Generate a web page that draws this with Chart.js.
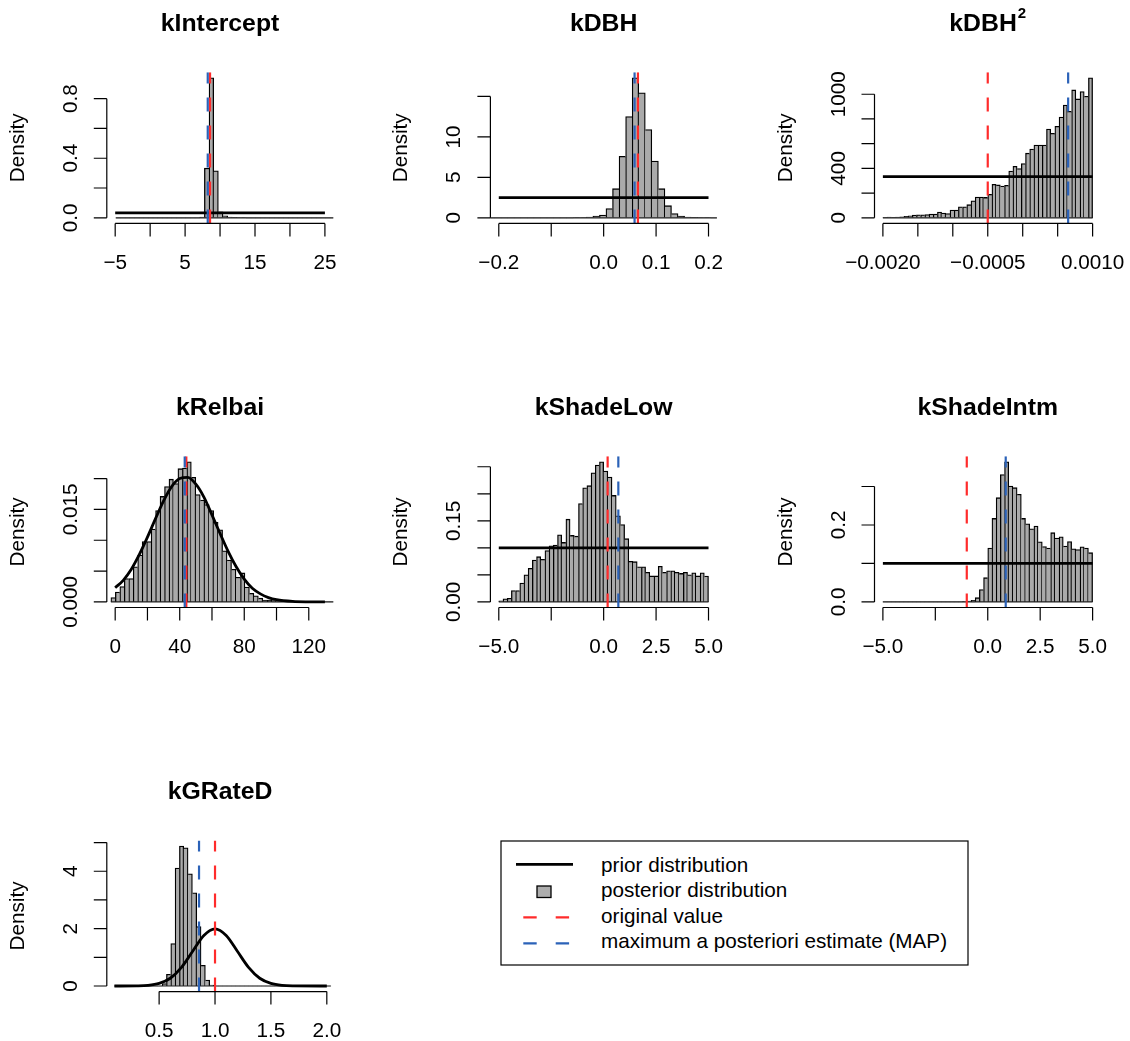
<!DOCTYPE html>
<html>
<head>
<meta charset="utf-8">
<title>Prior and posterior distributions</title>
<script src="https://cdn.jsdelivr.net/npm/chart.js@4.4.1/dist/chart.umd.min.js"></script>
<style>
  html, body { margin: 0; padding: 0; background: #fff; overflow: hidden; }
  #page { position: relative; width: 1130px; height: 1041px; }
  #page canvas, #page svg { position: absolute; left: 0; top: 0; }
  #legend text { font: 20.7px "Liberation Sans", Arial, sans-serif; fill: #000; }
</style>
</head>
<body>
<div id="page">
  <svg id="legend" width="1130" height="1041">
    <rect x="501" y="841" width="467" height="124" fill="none" stroke="#000" stroke-width="1.2"/>
    <line x1="516" y1="864.3" x2="573" y2="864.3" stroke="#000" stroke-width="2.8"/>
    <rect x="537" y="886" width="14" height="11.5" fill="#adadad" stroke="#000" stroke-width="1.3"/>
    <line x1="523.3" y1="917.3" x2="569.1" y2="917.3" stroke="#ff2b2b" stroke-width="2.2" stroke-dasharray="13.4 19"/>
    <line x1="523.3" y1="943.3" x2="569.1" y2="943.3" stroke="#2b62b8" stroke-width="2.2" stroke-dasharray="13.4 19"/>
    <text x="601" y="871.5">prior distribution</text>
    <text x="601" y="897.2">posterior distribution</text>
    <text x="601" y="922.8">original value</text>
    <text x="601" y="948.4">maximum a posteriori estimate (MAP)</text>
  </svg>
</div>
<script>
// parameter names, one panel each
const panelTitles = ['kIntercept', 'kDBH', 'kDBH', 'kRelbai', 'kShadeLow', 'kShadeIntm', 'kGRateD'];
const titleSup = ['', '', '2', '', '', '', ''];

// histogram breaks: first break and bin width (50 bins per panel)
const histStart = [-4.91, -0.2456, -0.002, -2.67, -5, -5, 0.101];
const histWidth = [0.6667, 0.0125, 0.00006, 2.77, 0.2, 0.2, 0.0387];

// posterior densities per bin
const interceptHist = [
  0, 0, 0, 0, 0, 0, 0, 0, 0, 0,
  0, 0, 0, 0, 0, 0, 0, 0, 0.005, 0.333,
  0.94, 0.315, 0.04, 0.013, 0.005, 0.003, 0.002, 0.001, 0, 0,
  0, 0, 0, 0, 0, 0, 0, 0, 0, 0,
  0, 0, 0, 0, 0, 0, 0, 0, 0, 0
];
const dbhHist = [
  0, 0, 0, 0, 0, 0, 0, 0, 0, 0,
  0, 0, 0, 0, 0, 0.02, 0.04, 0.08, 0.2, 0.33,
  1.15, 3.6, 7.6, 12.5, 17.3, 15.45, 10.9, 7.0, 3.6, 1.5,
  0.53, 0.2, 0.1, 0.05, 0.03, 0.02, 0, 0, 0, 0,
  0, 0, 0, 0, 0, 0, 0, 0, 0, 0
];
const dbh2Hist = [
  3, 5, 3, 5, 8, 11, 16, 22, 24, 24,
  27, 30, 30, 46, 38, 35, 62, 62, 89, 89,
  106, 138, 168, 168, 165, 190, 271, 266, 257, 263,
  379, 417, 398, 439, 523, 556, 588, 588, 588, 718,
  683, 740, 816, 913, 862, 1035, 962, 1022, 984, 1133
];
const relbaiHist = [
  0.0007, 0.0016, 0.0025, 0.0038, 0.0038, 0.0057, 0.0076, 0.0098, 0.0098, 0.0118,
  0.0148, 0.0171, 0.0187, 0.0199, 0.0192, 0.0216, 0.0217, 0.0227, 0.0202, 0.0174,
  0.0165, 0.0158, 0.0148, 0.0129, 0.0117, 0.0083, 0.0068, 0.0053, 0.0040, 0.0047,
  0.0024, 0.0014, 0.0010, 0.0006, 0.0003, 0.0003, 0.0002, 0.0001, 0.0001, 0.00005,
  0.00005, 0, 0, 0, 0, 0, 0, 0, 0, 0
];
const shadeLowHist = [
  0.002, 0.0056, 0.0068, 0.021, 0.021, 0.035, 0.050, 0.062, 0.0775, 0.0837,
  0.0788, 0.095, 0.1036, 0.105, 0.124, 0.110, 0.153, 0.123, 0.1216, 0.182,
  0.211, 0.215, 0.239, 0.253, 0.259, 0.242, 0.231, 0.197, 0.159, 0.143,
  0.117, 0.075, 0.0744, 0.065, 0.065, 0.0546, 0.048, 0.048, 0.066, 0.0546,
  0.0577, 0.0577, 0.0546, 0.0527, 0.0546, 0.050, 0.054, 0.048, 0.054, 0.0478
];
const shadeIntmHist = [
  0, 0, 0, 0, 0, 0, 0, 0, 0, 0,
  0, 0, 0, 0, 0, 0, 0, 0, 0, 0.001,
  0.002, 0.004, 0.011, 0.032, 0.063, 0.140, 0.217, 0.271, 0.331, 0.364,
  0.301, 0.297, 0.280, 0.217, 0.203, 0.190, 0.197, 0.156, 0.144, 0.140,
  0.180, 0.166, 0.169, 0.145, 0.157, 0.138, 0.136, 0.143, 0.140, 0.128
];
const gRateHist = [
  0, 0, 0, 0, 0, 0, 0, 0, 0, 0,
  0, 0.08, 0.41, 1.48, 4.11, 4.88, 4.82, 3.91, 3.25, 2.07,
  0.72, 0.21, 0.035, 0, 0, 0, 0, 0, 0, 0,
  0, 0, 0, 0, 0, 0, 0, 0, 0, 0,
  0, 0, 0, 0, 0, 0, 0, 0, 0, 0
];
const hists = [interceptHist, dbhHist, dbh2Hist, relbaiHist, shadeLowHist, shadeIntmHist, gRateHist];

// prior densities
const priorX = [
  [-5, 25],
  [-0.2, 0.2],
  [-0.002, 0.001],
  [0, 5, 10, 15, 20, 25, 30, 35, 40, 45, 50, 55, 60, 65, 70, 75, 80, 85, 90, 95, 100, 110, 120, 130],
  [-5, 5],
  [-5, 5],
  [0.1, 0.3, 0.4, 0.5, 0.6, 0.7, 0.8, 0.9, 1.0, 1.1, 1.2, 1.3, 1.4, 1.5, 1.6, 1.7, 2.0]
];
const priorY = [
  [0.0333, 0.0333],
  [2.5, 2.5],
  [333.3, 333.3],
  [0.0023, 0.0035, 0.0053, 0.0077, 0.0105, 0.0135, 0.0164, 0.0187, 0.0200, 0.0202, 0.0191, 0.0170,
   0.0141, 0.0111, 0.0082, 0.0057, 0.0037, 0.0022, 0.0013, 0.0007, 0.00035, 0.00007, 0.00001, 0],
  [0.1, 0.1],
  [0.1, 0.1],
  [0, 0.004, 0.02, 0.09, 0.27, 0.65, 1.21, 1.76, 1.99, 1.76, 1.21, 0.65, 0.27, 0.09, 0.02, 0.004, 0]
];

const originalValue = [8.57, 0.0654, -0.0005, 44.1, 0.19, -1.0, 1.0];
const mapEstimate = [8.24, 0.059, 0.00065, 43.1, 0.70, 0.857, 0.857];

// axis limits before the 4% extension
const xLimits = [[-5, 25], [-0.2, 0.2], [-0.002, 0.001], [0, 130], [-5, 5], [-5, 5], [0.107, 1.983]];

const M = '\u2212';
const xTicks = [
  [-5, 0, 5, 10, 15, 20, 25],
  [-0.2, -0.1, 0, 0.1, 0.2],
  [-0.002, -0.0015, -0.001, -0.0005, 0, 0.0005, 0.001],
  [0, 20, 40, 60, 80, 100, 120],
  [-5, -2.5, 0, 2.5, 5],
  [-5, -2.5, 0, 2.5, 5],
  [0.5, 1.0, 1.5, 2.0]
];
const xTickLabels = [
  [M + '5', '', '5', '', '15', '', '25'],
  [M + '0.2', '', '0.0', '0.1', '0.2'],
  [M + '0.0020', '', '', M + '0.0005', '', '', '0.0010'],
  ['0', '', '40', '', '80', '', '120'],
  [M + '5.0', '', '0.0', '2.5', '5.0'],
  [M + '5.0', '', '0.0', '2.5', '5.0'],
  ['0.5', '1.0', '1.5', '2.0']
];
const yTicks = [
  [0, 0.2, 0.4, 0.6, 0.8],
  [0, 5, 10, 15],
  [0, 200, 400, 600, 800, 1000],
  [0, 0.005, 0.010, 0.015, 0.020],
  [0, 0.05, 0.10, 0.15, 0.20, 0.25],
  [0, 0.1, 0.2, 0.3],
  [0, 1, 2, 3, 4, 5]
];
const yTickLabels = [
  ['0.0', '', '0.4', '', '0.8'],
  ['0', '5', '10', ''],
  ['0', '', '400', '', '', '1000'],
  ['0.000', '', '', '0.015', ''],
  ['0.00', '', '', '0.15', '', ''],
  ['0.0', '', '0.2', ''],
  ['0', '', '2', '', '4', '']
];

// page layout of the 3x3 grid
const panelCol = [0, 1, 2, 0, 1, 2, 0];
const panelRow = [0, 0, 0, 1, 1, 1, 2];
const colLeft = [106.8, 490.4, 874.5];
const rowTop = [72.2, 456.3, 840.4];
const PW = 226.5, PH = 151.2;
const PAGE_W = 1130, PAGE_H = 1041;

const LABEL_FONT = '20.7px "Liberation Sans", Arial, sans-serif';
const TITLE_FONT = 'bold 24.8px "Liberation Sans", Arial, sans-serif';
const SUP_FONT = 'bold 15px "Liberation Sans", Arial, sans-serif';
const TICK = 13;
const BAR_FILL = '#aaaaaa';
const BAR_EDGE = 1.3;
const RED = '#ff2b2b';
const BLUE = '#2b62b8';

// base-graphics style axes, labels and titles
const rAxes = {
  id: 'rAxes',
  afterDraw(chart, args, opts) {
    const i = opts.panel;
    const { ctx, chartArea: a } = chart;
    const sx = chart.scales.x, sy = chart.scales.y;
    const xs = xTicks[i].map(v => sx.getPixelForValue(v));
    const ys = yTicks[i].map(v => sy.getPixelForValue(v));

    ctx.save();
    ctx.strokeStyle = '#000';
    ctx.fillStyle = '#000';
    ctx.lineWidth = 1.2;
    ctx.beginPath();
    ctx.moveTo(xs[0], a.bottom);
    ctx.lineTo(xs[xs.length - 1], a.bottom);
    for (const px of xs) {
      ctx.moveTo(px, a.bottom);
      ctx.lineTo(px, a.bottom + TICK);
    }
    ctx.moveTo(a.left, ys[0]);
    ctx.lineTo(a.left, ys[ys.length - 1]);
    for (const py of ys) {
      ctx.moveTo(a.left, py);
      ctx.lineTo(a.left - TICK, py);
    }
    ctx.stroke();

    ctx.font = LABEL_FONT;
    ctx.textAlign = 'center';
    ctx.textBaseline = 'alphabetic';
    xTickLabels[i].forEach((t, k) => {
      if (t) ctx.fillText(t, xs[k], a.bottom + 45.8);
    });
    yTickLabels[i].forEach((t, k) => {
      if (!t) return;
      ctx.save();
      ctx.translate(a.left - 30, ys[k]);
      ctx.rotate(-Math.PI / 2);
      ctx.fillText(t, 0, 0);
      ctx.restore();
    });
    ctx.save();
    ctx.translate(a.left - 83, (a.top + a.bottom) / 2);
    ctx.rotate(-Math.PI / 2);
    ctx.fillText('Density', 0, 0);
    ctx.restore();

    // title, with an optional superscript
    const title = panelTitles[i], sup = titleSup[i];
    ctx.font = TITLE_FONT;
    const wMain = ctx.measureText(title).width;
    ctx.font = SUP_FONT;
    const wSup = sup ? ctx.measureText(sup).width + 1 : 0;
    const x0 = (a.left + a.right) / 2 - (wMain + wSup) / 2;
    ctx.textAlign = 'left';
    ctx.font = TITLE_FONT;
    ctx.fillText(title, x0, a.top - 41);
    if (sup) {
      ctx.font = SUP_FONT;
      ctx.fillText(sup, x0 + wMain + 1, a.top - 54);
    }
    ctx.restore();
  }
};

function panelConfig(i) {
  const [lo, hi] = xLimits[i];
  const ext = (hi - lo) * 0.04;
  const h = hists[i];
  const top = Math.max(...h);
  const yMin = -0.04 * top, yMax = 1.04 * top;
  const s = histStart[i], w = histWidth[i];
  const bars = h.map((v, k) => ({ x: s + (k + 0.5) * w, y: v }));
  // each shared bin edge is outlined once, by the taller neighbour
  const borders = h.map((v, k) => {
    if (!v) return 0;
    const prev = k > 0 ? h[k - 1] : 0;
    const next = k < h.length - 1 ? h[k + 1] : 0;
    return { top: BAR_EDGE, bottom: 0, left: prev <= v ? BAR_EDGE : 0, right: next < v ? BAR_EDGE : 0 };
  });
  const prior = priorX[i].map((x, k) => ({ x, y: priorY[i][k] }));
  const smooth = priorX[i].length > 2;
  const vline = (v, color, order) => ({
    type: 'line',
    data: [{ x: v, y: yMin }, { x: v, y: yMax }],
    borderColor: color,
    borderWidth: 2.2,
    borderDash: [14, 14],
    pointRadius: 0,
    order
  });
  const left = colLeft[panelCol[i]], topPx = rowTop[panelRow[i]];

  return {
    type: 'bar',
    data: {
      datasets: [
        {
          type: 'bar',
          data: bars,
          backgroundColor: BAR_FILL,
          borderColor: '#000',
          borderWidth: ctx => borders[ctx.dataIndex] ?? 0,
          borderSkipped: false,
          barPercentage: 1,
          categoryPercentage: 1,
          order: 5
        },
        {
          type: 'line',
          data: [{ x: s, y: 0 }, { x: s + h.length * w, y: 0 }],
          borderColor: '#222',
          borderWidth: 1.2,
          pointRadius: 0,
          order: 4
        },
        {
          type: 'line',
          data: prior,
          borderColor: '#000',
          borderWidth: 2.8,
          pointRadius: 0,
          cubicInterpolationMode: smooth ? 'monotone' : 'default',
          tension: 0,
          order: 3
        },
        vline(originalValue[i], RED, 2),
        vline(mapEstimate[i], BLUE, 1)
      ]
    },
    options: {
      responsive: false,
      animation: false,
      devicePixelRatio: 1,
      layout: {
        padding: {
          left,
          top: topPx,
          right: PAGE_W - left - PW,
          bottom: PAGE_H - topPx - PH
        }
      },
      scales: {
        x: { type: 'linear', min: lo - ext, max: hi + ext, offset: false, display: false },
        y: { type: 'linear', min: yMin, max: yMax, display: false }
      },
      plugins: {
        legend: { display: false },
        tooltip: { enabled: false },
        rAxes: { panel: i }
      }
    },
    plugins: [rAxes]
  };
}

const page = document.getElementById('page');
for (let i = 0; i < panelTitles.length; i++) {
  const cv = document.createElement('canvas');
  cv.width = PAGE_W;
  cv.height = PAGE_H;
  page.appendChild(cv);
  new Chart(cv, panelConfig(i));
}
</script>
</body>
</html>
